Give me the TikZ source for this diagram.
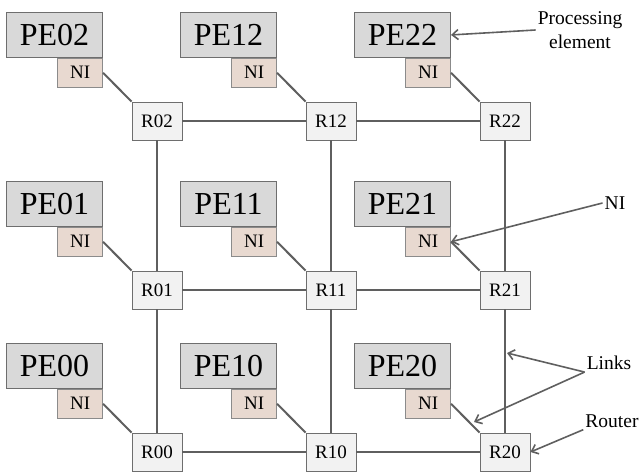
\documentclass[tikz,border=0pt]{standalone}
\usepackage{fontspec}
\setmainfont{Liberation Serif}
\usepackage{tikz}
\usetikzlibrary{arrows.meta}
\definecolor{peFill}{HTML}{D9D9D9}
\definecolor{niFill}{HTML}{E8D9D0}
\definecolor{rFill}{HTML}{F2F2F2}
\definecolor{boxLine}{HTML}{6E6E6E}
\definecolor{linkGray}{HTML}{5F5F5F}

\begin{document}
\begin{tikzpicture}[x=1pt,y=-1pt]
  \tikzset{pe/.style = {shape=rectangle,draw=boxLine,fill=peFill,line width=0.9pt,minimum width=96pt,minimum height=45pt,inner sep=0pt,anchor=north east,font=\fontsize{32}{36}\selectfont}}
  \tikzset{ni/.style = {shape=rectangle,draw=boxLine!80,fill=niFill,line width=0.7pt,minimum width=45pt,minimum height=29pt,inner sep=0pt,anchor=north east,font=\fontsize{19}{22}\selectfont}}
  \tikzset{router/.style = {shape=rectangle,draw=boxLine,fill=rFill,line width=0.9pt,minimum width=50pt,minimum height=38pt,inner sep=0pt,font=\fontsize{19}{22}\selectfont}}
  \tikzset{link/.style = {draw=linkGray,line width=2pt}}
  \tikzset{note/.style = {inner sep=2pt,font=\fontsize{19.5}{24}\selectfont}}
  \tikzset{pointer/.style = {-{Straight Barb[length=6pt,width=10pt]},draw=linkGray,line width=1.6pt}}
  \useasboundingbox (0,0) rectangle (640,472);

	\node[router] (r02) at (157,121) {R02};
	\node[router] (r12) at (331,121) {R12};
	\node[router] (r22) at (505,121) {R22};
	\node[router] (r01) at (157,290) {R01};
	\node[router] (r11) at (331,290) {R11};
	\node[router] (r21) at (505,290) {R21};
	\node[router] (r00) at (157,452) {R00};
	\node[router] (r10) at (331,452) {R10};
	\node[router] (r20) at (505,452) {R20};

	\node[pe] (pe02) at (103,12) {PE02};
	\node[pe] (pe12) at (277,12) {PE12};
	\node[pe] (pe22) at (451,12) {PE22};
	\node[pe] (pe01) at (103,181) {PE01};
	\node[pe] (pe11) at (277,181) {PE11};
	\node[pe] (pe21) at (451,181) {PE21};
	\node[pe] (pe00) at (103,343) {PE00};
	\node[pe] (pe10) at (277,343) {PE10};
	\node[pe] (pe20) at (451,343) {PE20};

	\node[ni] (ni02) at (pe02.south east) {NI};
	\node[ni] (ni12) at (pe12.south east) {NI};
	\node[ni] (ni22) at (pe22.south east) {NI};
	\node[ni] (ni01) at (pe01.south east) {NI};
	\node[ni] (ni11) at (pe11.south east) {NI};
	\node[ni] (ni21) at (pe21.south east) {NI};
	\node[ni] (ni00) at (pe00.south east) {NI};
	\node[ni] (ni10) at (pe10.south east) {NI};
	\node[ni] (ni20) at (pe20.south east) {NI};

	% mesh links
	\path[link] (r02) edge (r12) (r12) edge (r22);
	\path[link] (r01) edge (r11) (r11) edge (r21);
	\path[link] (r00) edge (r10) (r10) edge (r20);
	\path[link] (r02) edge (r01) (r01) edge (r00);
	\path[link] (r12) edge (r11) (r11) edge (r10);
	\path[link] (r22) edge (r21) (r21) edge (r20);

	% NI to router
	\path[link] (ni02.east) edge (r02.north west);
	\path[link] (ni12.east) edge (r12.north west);
	\path[link] (ni22.east) edge (r22.north west);
	\path[link] (ni01.east) edge (r01.north west);
	\path[link] (ni11.east) edge (r11.north west);
	\path[link] (ni21.east) edge (r21.north west);
	\path[link] (ni00.east) edge (r00.north west);
	\path[link] (ni10.east) edge (r10.north west);
	\path[link] (ni20.east) edge (r20.north west);

	% labels
	\node[note,align=center] (lblpe) at (580,30) {Processing\\element};
	\node[note] (lblni) at (615,203) {NI};
	\node[note] (lbllk) at (609,363) {Links};
	\node[note] (lblrt) at (612,421) {Router};
	\coordinate (lkv) at (507,353);
	\coordinate (lkd) at (474,422);

	\draw[pointer] (lblpe.west) -- (pe22.east);
	\draw[pointer] (lblni.west) -- (ni21.east);
	\draw[pointer] (lbllk.south west) -- (lkv);
	\draw[pointer] (lbllk.south west) -- (lkd);
	\draw[pointer] (lblrt.south west) -- (r20.east);
\end{tikzpicture}
\end{document}
